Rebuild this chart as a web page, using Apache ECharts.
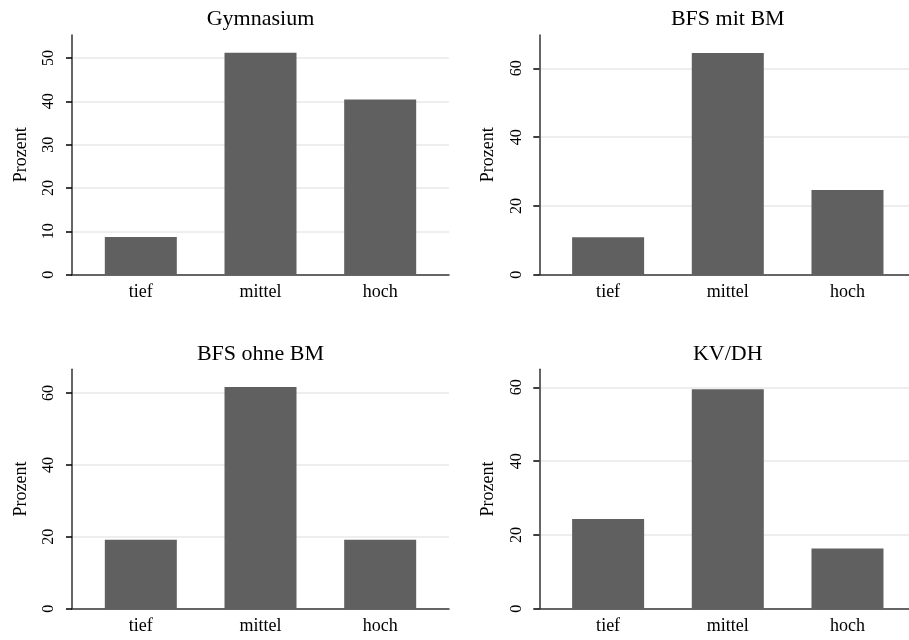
<!DOCTYPE html>
<html>
<head>
<meta charset="utf-8">
<script src="https://cdn.jsdelivr.net/npm/echarts@6/dist/echarts.min.js"></script>
<style>
  html, body { margin: 0; padding: 0; background: #fff; }
  #chart { width: 909px; height: 640px; }
</style>
</head>
<body>
<div id="chart"></div>
<script>
const categories = ['tief', 'mittel', 'hoch'];
const panelTitles = ['Gymnasium', 'BFS mit BM', 'BFS ohne BM', 'KV/DH'];
const gymnasium = [8.7, 51.2, 40.4];
const bfsMitBM = [10.9, 64.5, 24.6];
const bfsOhneBM = [19.2, 61.7, 19.2];
const kvDH = [24.3, 59.5, 16.3];
const ticksGymnasium = [0, 10, 20, 30, 40, 50];
const ticksOther = [0, 20, 40, 60];
const yAxisMax = [55.3, 69.7, 66.6, 64.9];
const yAxisInterval = [10, 20, 20, 20];
const yAxisName = 'Prozent';

const panelValues = [gymnasium, bfsMitBM, bfsOhneBM, kvDH];
const panelTicks = [ticksGymnasium, ticksOther, ticksOther, ticksOther];

const FONT = 'Liberation Serif';
const gridRects = [
  { left: 72, top: 35, width: 377, height: 239.7 },
  { left: 539.3, top: 35, width: 369.7, height: 239.7 },
  { left: 72, top: 369.3, width: 377, height: 239.4 },
  { left: 539.3, top: 369.3, width: 369.7, height: 239.4 }
];
const xAxisMax = [3.575, 3.514, 3.575, 3.514];
const titlePos = [
  { left: 260.5, top: 8 },
  { left: 727.8, top: 8 },
  { left: 260.5, top: 343 },
  { left: 727.8, top: 343 }
];

const chart = echarts.init(document.getElementById('chart'), null, { renderer: 'canvas' });

const option = {
  backgroundColor: '#ffffff',
  animation: false,
  title: panelTitles.map((t, i) => ({
    text: t,
    left: titlePos[i].left,
    top: titlePos[i].top,
    textAlign: 'center',
    padding: 0,
    textStyle: { fontFamily: FONT, fontSize: 22, fontWeight: 'normal', color: '#000' }
  })),
  grid: gridRects.map(r => Object.assign({ containLabel: false }, r)),
  xAxis: gridRects.map((r, i) => ({
    type: 'value',
    gridIndex: i,
    min: 0.425,
    max: xAxisMax[i],
    axisLine: { show: true, onZero: false, lineStyle: { color: '#333', width: 1.5 } },
    axisTick: { show: false },
    splitLine: { show: false },
    axisLabel: {
      customValues: [1, 2, 3],
      formatter: v => categories[Math.round(v) - 1] || '',
      fontFamily: FONT,
      fontSize: 18,
      color: '#000',
      margin: 9
    }
  })),
  yAxis: gridRects.map((r, i) => ({
    type: 'value',
    gridIndex: i,
    min: 0,
    max: yAxisMax[i],
    interval: yAxisInterval[i],
    name: yAxisName,
    nameLocation: 'middle',
    nameRotate: 90,
    nameGap: 42,
    nameTextStyle: { fontFamily: FONT, fontSize: 18, color: '#000' },
    axisLine: { show: true, onZero: false, lineStyle: { color: '#333', width: 1.5 } },
    axisTick: { show: true, length: 6, customValues: panelTicks[i], lineStyle: { color: '#000', width: 1.5 } },
    axisLabel: {
      customValues: panelTicks[i],
      rotate: 90,
      fontFamily: FONT,
      fontSize: 16,
      color: '#000',
      margin: 15
    },
    splitLine: {
      show: true,
      showMinLine: false,
      lineStyle: { color: '#e8e8e8', width: 1.5 }
    }
  })),
  series: panelValues.map((vals, i) => ({
    type: 'bar',
    xAxisIndex: i,
    yAxisIndex: i,
    barWidth: 72,
    itemStyle: { color: '#606060' },
    data: vals.map((v, j) => [j + 1, v])
  }))
};

chart.setOption(option);
</script>
</body>
</html>
